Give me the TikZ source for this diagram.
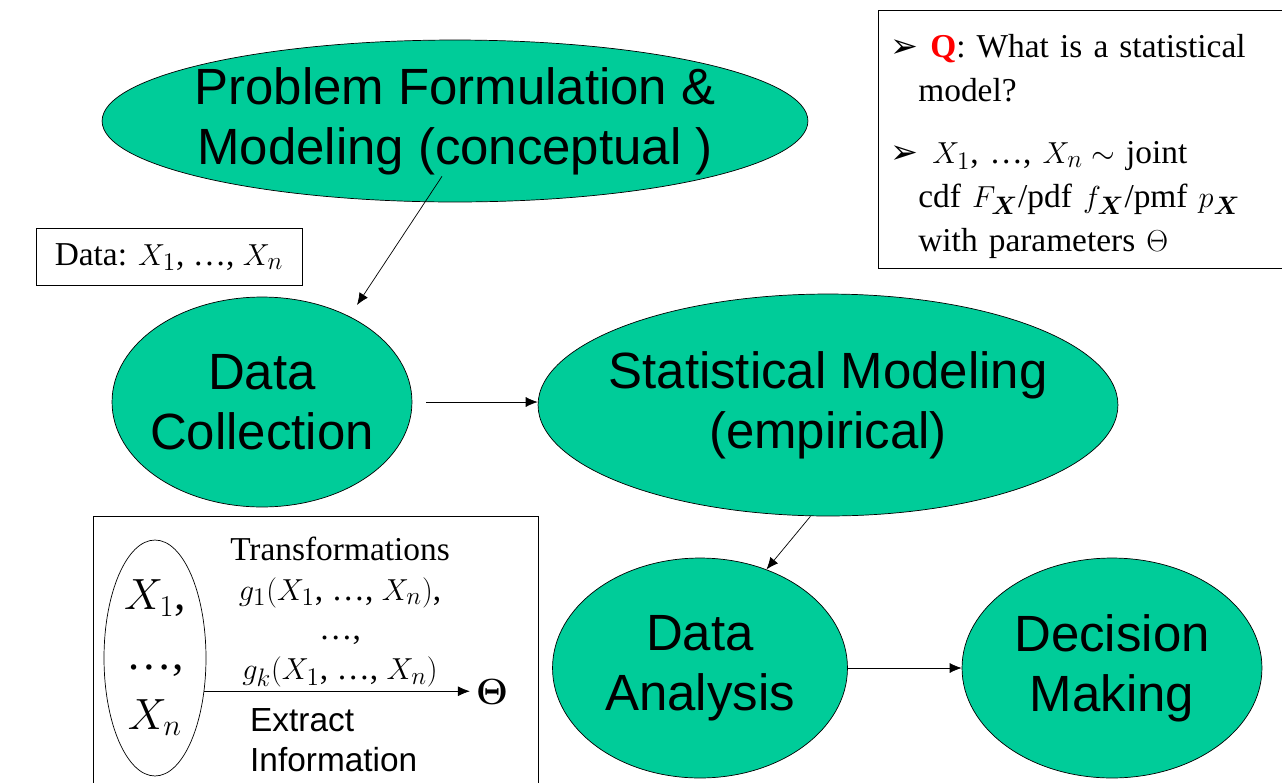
\documentclass[tikz,border=0pt]{standalone}
\usepackage{amsmath}
\usepackage{fontspec}
\setmainfont{Liberation Serif}
\setsansfont{Liberation Sans}
\newfontfamily\dejavu{DejaVu Sans}
\usepackage{tikz}
\usetikzlibrary{arrows.meta,shapes.geometric}

\definecolor{stagegreen}{RGB}{0,204,153}

\begin{document}
\begin{tikzpicture}[
    x=0.02cm, y=-0.02cm,
    stage/.style={
        ellipse,
        draw=black,
        fill=stagegreen,
        inner xsep=-0.6cm,
        inner ysep=-0.4cm,
        align=center,
        font=\sffamily\fontsize{29}{34}\selectfont
    },
    flow/.style={-{Latex[length=0.24cm,width=0.2cm]}, thin},
    plain/.style={font=\fontsize{19}{22.7}\selectfont}
]

\useasboundingbox (0,0) rectangle (1282,782);

% main stages
\node[stage, minimum width=14.12cm, minimum height=3.24cm] (prob) at (455,121)
{Problem Formulation \&\\
 Modeling (conceptual )};

\node[stage, minimum width=6cm, minimum height=4.2cm] (coll) at (262,402)
{Data\\
 Collection};

\node[stage, minimum width=11.6cm, minimum height=4.44cm] (stat) at (828,405)
{Statistical Modeling\\
 (empirical)};

\node[stage, minimum width=5.9cm, minimum height=4.4cm] (ana) at (700,668)
{Data\\
 Analysis};

\node[stage, minimum width=6cm, minimum height=4.4cm] (dec) at (1112,668)
{Decision\\
 Making};

% data box
\node[
    plain,
    draw,
    minimum width=5.32cm,
    minimum height=1.14cm
] (data) at (169,257)
{Data: $X_1$, \dots, $X_n$};

% question box
\node[
    draw,
    anchor=north west,
    text width=7.28cm,
    inner xsep=0.4cm,
    inner ysep=0pt,
    minimum height=5.16cm,
    align=left,
    font=\fontsize{19}{25}\selectfont
] (qbox) at (878,10)
{\leftskip=0.4cm
 \leavevmode\rule{0pt}{0.74cm}\llap{\dejavu\fontsize{19}{20}\selectfont ➢}\hspace{0.24cm}\textcolor{red}{\textbf{Q}}: What is a statistical\\
 model?\par\vspace{0.36cm}
 \leavevmode\llap{\dejavu\fontsize{19}{20}\selectfont ➢}\hspace{0.28cm}$X_1$, \dots, $X_n\sim$ joint\\
 cdf $F_{\boldsymbol X}$/pdf $f_{\boldsymbol X}$/pmf $p_{\boldsymbol X}$\\
 with parameters $\Theta$\par};

% transformation box
\draw (93,516) rectangle (538,800);

\node[
    ellipse,
    draw,
    inner sep=0pt,
    minimum width=2.04cm,
    minimum height=4.72cm,
    align=center,
    font=\fontsize{26}{34}\selectfont
] (vars) at (155,658)
{$X_1$,\\
 \dots,\\
 $X_n$};

\node[plain, font=\bfseries\fontsize{22}{26}\selectfont] (theta) at (492,692) {$\boldsymbol\Theta$};

\node[plain, align=center] (trans) at (340,612)
{Transformations\\
 $g_1(X_1$, \dots, $X_n)$,\\
 \dots,\\
 $g_k(X_1$, \dots, $X_n)$};

\node[plain, font=\sffamily\fontsize{19}{22.7}\selectfont, align=left, anchor=west] (extr) at (244,740)
{Extract\\
 Information};

% connectors
\draw[flow] ([shift={(-13,-26)}]prob.south) -- ([shift={(95,-97)}]coll.center);
\draw[flow, shorten <=0.28cm] (coll.east) -- (coll.east -| stat.west);
\draw[flow] ([xshift=-10]stat.south) -- (ana.56);
\draw[flow] (ana.east) -- (dec.west);
\draw[flow] (vars.-34) -- (vars.-34 -| theta.west);

\end{tikzpicture}
\end{document}
